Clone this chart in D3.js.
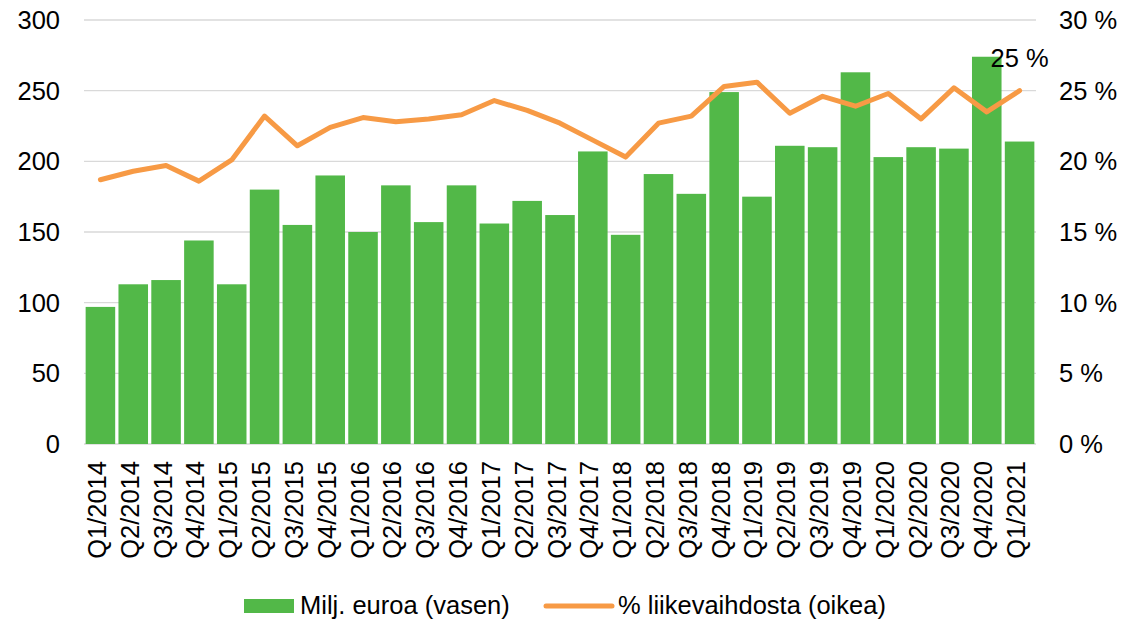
<!DOCTYPE html>
<html><head><meta charset="utf-8">
<script src="https://cdn.jsdelivr.net/npm/d3@7"></script>
<style>
html,body{margin:0;padding:0;background:#fff;}
text{font-family:"Liberation Sans",Arial,sans-serif;fill:#000;}
</style></head>
<body><svg id="c" width="1123" height="619"></svg>
<script>
const categories = ["Q1/2014","Q2/2014","Q3/2014","Q4/2014","Q1/2015","Q2/2015","Q3/2015","Q4/2015","Q1/2016","Q2/2016","Q3/2016","Q4/2016","Q1/2017","Q2/2017","Q3/2017","Q4/2017","Q1/2018","Q2/2018","Q3/2018","Q4/2018","Q1/2019","Q2/2019","Q3/2019","Q4/2019","Q1/2020","Q2/2020","Q3/2020","Q4/2020","Q1/2021"];
const barValues = [97,113,116,144,113,180,155,190,150,183,157,183,156,172,162,207,148,191,177,249,175,211,210,263,203,210,209,274,214];
const pctValues = [18.7,19.3,19.7,18.6,20.1,23.2,21.1,22.4,23.1,22.8,23.0,23.3,24.3,23.6,22.7,21.5,20.3,22.7,23.2,25.3,25.6,23.4,24.6,23.9,24.8,23.0,25.2,23.5,25.0];
const leftTicks = [0,50,100,150,200,250,300];
const rightTicks = [0,5,10,15,20,25,30];
const barName = "Milj. euroa (vasen)";
const lineName = "% liikevaihdosta (oikea)";
const lastLabel = "25 %";

const svg = d3.select("#c");
const L = 84, R = 1036, T = 20, B = 444;
const fs = 25.5;
const x = d3.scaleBand().domain(categories).range([L, R]).paddingInner(0.1).paddingOuter(0.05);
const yL = d3.scaleLinear().domain([0,300]).range([B, T]);
const yR = d3.scaleLinear().domain([0,30]).range([B, T]);

// gridlines
svg.append("g").selectAll("line").data(leftTicks).join("line")
  .attr("x1", L).attr("x2", R).attr("y1", d=>yL(d)).attr("y2", d=>yL(d))
  .attr("stroke", "#d9d9d9").attr("stroke-width", 1.3);

// bars
svg.append("g").selectAll("rect").data(barValues).join("rect")
  .attr("x", (d,i)=>x(categories[i])).attr("width", x.bandwidth())
  .attr("y", d=>yL(d)).attr("height", d=>B - yL(d))
  .attr("fill", "#52b848");

// line
const line = d3.line().x((d,i)=>x(categories[i]) + x.bandwidth()/2).y(d=>yR(d));
svg.append("path").datum(pctValues).attr("d", line)
  .attr("fill","none").attr("stroke","#f79a45").attr("stroke-width",5)
  .attr("stroke-linejoin","round").attr("stroke-linecap","round");

// last label
const li = pctValues.length - 1;
svg.append("text").attr("x", x(categories[li]) + x.bandwidth()/2).attr("y", 67)
  .attr("text-anchor","middle").attr("font-size", fs).text(lastLabel);

// left axis
svg.append("g").selectAll("text").data(leftTicks).join("text")
  .attr("x", 60).attr("y", d=>yL(d)).attr("dy","0.35em")
  .attr("text-anchor","end").attr("font-size", fs).text(d=>d);

// right axis
svg.append("g").selectAll("text").data(rightTicks).join("text")
  .attr("x", 1059).attr("y", d=>yR(d)).attr("dy","0.35em")
  .attr("text-anchor","start").attr("font-size", fs).text(d=>d + " %");

// x labels
svg.append("g").selectAll("text").data(categories).join("text")
  .attr("transform", d=>`translate(${x(d) + x.bandwidth()/2 + 5.5},461) rotate(-90)`)
  .attr("text-anchor","end").attr("font-size", fs).text(d=>d);

// legend
svg.append("rect").attr("x",244).attr("y",599).attr("width",50).attr("height",14).attr("fill","#52b848");
svg.append("text").attr("x",300).attr("y",614).attr("font-size",fs).text(barName);
svg.append("line").attr("x1",546).attr("x2",612).attr("y1",606).attr("y2",606)
  .attr("stroke","#f79a45").attr("stroke-width",5).attr("stroke-linecap","round");
svg.append("text").attr("x",618).attr("y",614).attr("font-size",fs).text(lineName);
</script></body></html>
